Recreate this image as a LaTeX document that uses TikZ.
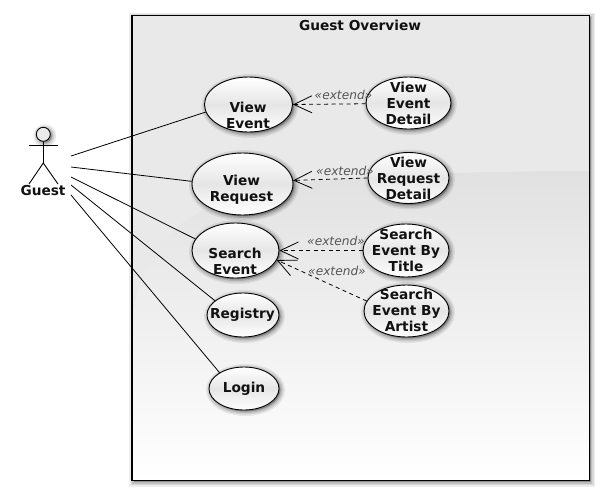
\documentclass[tikz,border=0pt]{standalone}
\usepackage{fontspec}
\setmainfont{DejaVu Sans}
\usetikzlibrary{arrows.meta,shapes.geometric}
\definecolor{ink}{HTML}{111111}
\definecolor{extcol}{HTML}{555555}
\definecolor{glossc}{HTML}{E9E9E9}
\definecolor{basec}{HTML}{E1E1E1}
\tikzset{
  softshadow/.style={
    preaction={draw=black,fill=black,opacity=.07,line width=9pt,transform canvas={shift={(1.5pt,-1.5pt)}}},
    preaction={draw=black,fill=black,opacity=.09,line width=6pt,transform canvas={shift={(1.5pt,-1.5pt)}}},
    preaction={draw=black,fill=black,opacity=.12,line width=3pt,transform canvas={shift={(1.5pt,-1.5pt)}}}},
  usecase/.style 2 args={ellipse,draw=black,line width=.9pt,inner sep=0pt,
    minimum width=#1pt,minimum height=#2pt,softshadow,
    top color=white,bottom color=white,middle color=black!10},
  uctext/.style={font=\fontsize{13.7}{16}\selectfont\bfseries,text=ink,align=center,inner sep=0pt},
  extlabel/.style={font=\fontsize{12.2}{14}\selectfont\itshape,text=extcol,inner sep=0pt},
  assoc/.style={draw=black,line width=.8pt},
  extendline/.style={draw=black,line width=.8pt,dash pattern=on 4pt off 3.5pt,
    -{Straight Barb[length=18pt,width=17pt]}},
  actorline/.style={draw=black,line width=.9pt},
}
\begin{document}
\begin{tikzpicture}[x=1pt,y=-1pt]
\useasboundingbox (0,0) rectangle (605,496);
% frame
\node[draw=none,fill=basec,softshadow,inner sep=0pt,minimum width=457pt,minimum height=465pt,anchor=north west] (frame) at (132,15.5) {};
\shade[top color=basec,bottom color=white] (132,171) rectangle (589,480);
\fill[glossc] (132,15.5) -- (589,15.5) -- (589,171)
  .. controls (420,172) and (290,176) .. (230,198)
  .. controls (180,215) and (140,250) .. (132,320) -- cycle;
\draw[line width=1.1pt] (frame.north west) rectangle (frame.south east);
\node[font=\fontsize{13.7}{16}\selectfont\bfseries,text=ink,inner sep=0pt] (title) at (360,25) {Guest Overview};
% use cases
\node[usecase={88}{55}] (ve) at (248.5,104.5) {};
\node[usecase={85}{52}] (ved) at (408.5,103) {};
\node[usecase={101}{62}] (vr) at (242.5,184) {};
\node[usecase={81}{51}] (vrd) at (408.5,178) {};
\node[usecase={87}{55}] (se) at (235.5,250.5) {};
\node[usecase={86}{53}] (set) at (406,250.5) {};
\node[usecase={85}{52}] (sea) at (406.5,311) {};
\node[usecase={72}{44}] (reg) at (243,315) {};
\node[usecase={70}{43}] (log) at (244,388.5) {};
\node[uctext] (vetx) at (248,115) {View\\Event};
\node[uctext] (vedtx) at (408.5,103) {View\\Event\\Detail};
\node[uctext] (vrtx) at (241.5,190) {View\\Request};
\node[uctext] (vrdtx) at (408.5,178) {View\\Request\\Detail};
\node[uctext] (setx) at (235,261) {Search\\Event};
\node[uctext] (settx) at (406,250) {Search\\Event By\\Title};
\node[uctext] (seatx) at (406.5,310) {Search\\Event By\\Artist};
\node[uctext] (regtx) at (242.5,315) {Registry};
\node[uctext] (logtx) at (244,388.5) {Login};
% actor
\node[circle,draw=black,line width=.9pt,fill=black!8,minimum size=14pt,inner sep=0pt,softshadow] (head) at (43.3,134.3) {};
\coordinate (armL) at (29,145.7);
\coordinate (armR) at (58,145.7);
\coordinate (hip) at (43.3,163);
\coordinate (footL) at (29,184);
\coordinate (footR) at (58,184);
\draw[actorline] (head) -- (hip);
\draw[actorline] (armL) -- (armR);
\draw[actorline] (footL) -- (hip) -- (footR);
\node[uctext] (guest) at (43,191) {Guest};
% associations
\coordinate (g1) at (71,156);
\coordinate (g2) at (71,167);
\coordinate (g3) at (71,177);
\coordinate (g4) at (71,185);
\coordinate (g5) at (71,195);
\draw[assoc] (g1) -- (ve.190);
\draw[assoc] (g2) -- (vr.177);
\draw[assoc] (g3) -- (se.164);
\draw[assoc] (g4) -- (reg.153);
\draw[assoc] (g5) -- (log.147);
% extends
\draw[extendline] (ved.181) -- (ve.0);
\draw[extendline] (vrd.west) -- (vr.4);
\draw[extendline] (set.west) -- (se.east);
\draw[extendline] (sea.166) -- (se.-13);
\node[extlabel] (e1) at (343.5,95) {«extend»};
\node[extlabel] (e2) at (345,171) {«extend»};
\node[extlabel] (e3) at (336,241) {«extend»};
\node[extlabel] (e4) at (337,271) {«extend»};
\end{tikzpicture}
\end{document}
